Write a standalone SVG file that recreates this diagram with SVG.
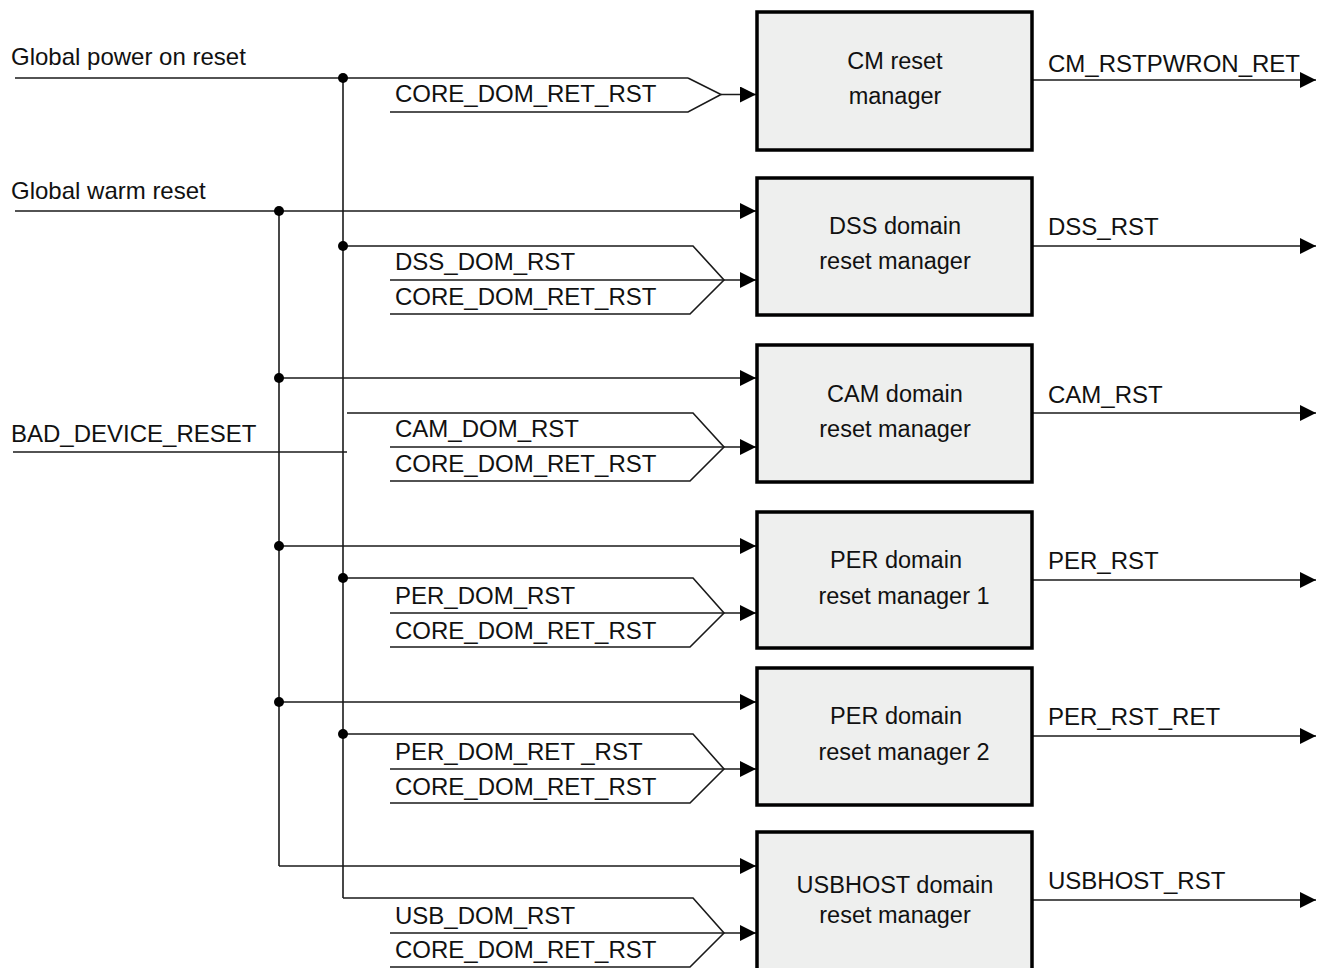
<svg xmlns="http://www.w3.org/2000/svg" width="1318" height="968" viewBox="0 0 1318 968">
<style>
.w{fill:none;stroke:#1a1a1a;stroke-width:1.6}
.box{fill:#eeefee;stroke:#000;stroke-width:3.5}
.lbl{font-family:"Liberation Sans",Arial,sans-serif;font-size:24px;fill:#111}
.bt{font-family:"Liberation Sans",Arial,sans-serif;font-size:23.5px;fill:#111;text-anchor:middle}
.dot{fill:#000}
</style>
<defs>
<marker id="ah" markerUnits="userSpaceOnUse" markerWidth="16" markerHeight="16" refX="16" refY="8" orient="auto" viewBox="0 0 16 16">
<path d="M0,0 L16,8 L0,16 z" fill="#000"/>
</marker>
</defs>
<rect width="1318" height="968" fill="#fff"/>

<g id="connectors">
<line class="w" x1="15" y1="78" x2="688" y2="78"/>
<line class="w" x1="15" y1="211" x2="756" y2="211" marker-end="url(#ah)"/>
<line class="w" x1="13" y1="452" x2="347" y2="452"/>
<line class="w" x1="343" y1="78" x2="343" y2="898"/>
<line class="w" x1="279" y1="211" x2="279" y2="866"/>
<polyline class="w" points="688,78 721,94.5 688,112 390,112"/>
<line class="w" x1="721" y1="94.5" x2="756" y2="94.5" marker-end="url(#ah)"/>
<polyline class="w" points="343,246 693,246 724,280 690,314 390,314"/>
<line class="w" x1="390" y1="280" x2="756" y2="280" marker-end="url(#ah)"/>
<line class="w" x1="279" y1="378" x2="756" y2="378" marker-end="url(#ah)"/>
<polyline class="w" points="347,413 693,413 724,447 690,481 390,481"/>
<line class="w" x1="390" y1="447" x2="756" y2="447" marker-end="url(#ah)"/>
<line class="w" x1="279" y1="546" x2="756" y2="546" marker-end="url(#ah)"/>
<polyline class="w" points="343,578 693,578 724,613 690,647 390,647"/>
<line class="w" x1="390" y1="613" x2="756" y2="613" marker-end="url(#ah)"/>
<line class="w" x1="279" y1="702" x2="756" y2="702" marker-end="url(#ah)"/>
<polyline class="w" points="343,734 693,734 724,769 690,803 390,803"/>
<line class="w" x1="390" y1="769" x2="756" y2="769" marker-end="url(#ah)"/>
<line class="w" x1="279" y1="866" x2="756" y2="866" marker-end="url(#ah)"/>
<polyline class="w" points="343,898 693,898 724,933 690,967 390,967"/>
<line class="w" x1="390" y1="933" x2="756" y2="933" marker-end="url(#ah)"/>
<line class="w" x1="1032" y1="80" x2="1316" y2="80" marker-end="url(#ah)"/>
<line class="w" x1="1032" y1="246" x2="1316" y2="246" marker-end="url(#ah)"/>
<line class="w" x1="1032" y1="413" x2="1316" y2="413" marker-end="url(#ah)"/>
<line class="w" x1="1032" y1="580" x2="1316" y2="580" marker-end="url(#ah)"/>
<line class="w" x1="1032" y1="736" x2="1316" y2="736" marker-end="url(#ah)"/>
<line class="w" x1="1032" y1="900" x2="1316" y2="900" marker-end="url(#ah)"/>
<circle class="dot" cx="343" cy="78" r="5"/>
<circle class="dot" cx="279" cy="211" r="5"/>
<circle class="dot" cx="343" cy="246" r="5"/>
<circle class="dot" cx="279" cy="378" r="5"/>
<circle class="dot" cx="279" cy="546" r="5"/>
<circle class="dot" cx="343" cy="578" r="5"/>
<circle class="dot" cx="279" cy="702" r="5"/>
<circle class="dot" cx="343" cy="734" r="5"/>
</g>

<g id="labels">
<text class="lbl" x="11" y="65">Global power on reset</text>
<text class="lbl" x="11" y="199">Global warm reset</text>
<text class="lbl" x="11" y="442">BAD_DEVICE_RESET</text>
<text class="lbl" x="395" y="102">CORE_DOM_RET_RST</text>
<text class="lbl" x="395" y="270">DSS_DOM_RST</text>
<text class="lbl" x="395" y="305">CORE_DOM_RET_RST</text>
<text class="lbl" x="395" y="437">CAM_DOM_RST</text>
<text class="lbl" x="395" y="472">CORE_DOM_RET_RST</text>
<text class="lbl" x="395" y="604">PER_DOM_RST</text>
<text class="lbl" x="395" y="639">CORE_DOM_RET_RST</text>
<text class="lbl" x="395" y="760">PER_DOM_RET _RST</text>
<text class="lbl" x="395" y="795">CORE_DOM_RET_RST</text>
<text class="lbl" x="395" y="924">USB_DOM_RST</text>
<text class="lbl" x="395" y="958">CORE_DOM_RET_RST</text>
<text class="lbl" x="1048" y="72">CM_RSTPWRON_RET</text>
<text class="lbl" x="1048" y="235">DSS_RST</text>
<text class="lbl" x="1048" y="403">CAM_RST</text>
<text class="lbl" x="1048" y="569">PER_RST</text>
<text class="lbl" x="1048" y="725">PER_RST_RET</text>
<text class="lbl" x="1048" y="889">USBHOST_RST</text>
</g>

<g id="cm">
<rect class="box" x="757" y="12" width="275" height="138"/>
<text class="bt" x="895" y="69">CM reset</text>
<text class="bt" x="895" y="104">manager</text>
</g>
<g id="dss">
<rect class="box" x="757" y="178" width="275" height="137"/>
<text class="bt" x="895" y="234">DSS domain</text>
<text class="bt" x="895" y="269">reset manager</text>
</g>
<g id="cam">
<rect class="box" x="757" y="345" width="275" height="137"/>
<text class="bt" x="895" y="402">CAM domain</text>
<text class="bt" x="895" y="437">reset manager</text>
</g>
<g id="per1">
<rect class="box" x="757" y="512" width="275" height="136"/>
<text class="bt" x="896" y="568">PER domain</text>
<text class="bt" x="904" y="604">reset manager 1</text>
</g>
<g id="per2">
<rect class="box" x="757" y="668" width="275" height="137"/>
<text class="bt" x="896" y="724">PER domain</text>
<text class="bt" x="904" y="760">reset manager 2</text>
</g>
<g id="usb">
<rect class="box" x="757" y="832" width="275" height="140"/>
<text class="bt" x="895" y="893">USBHOST domain</text>
<text class="bt" x="895" y="923">reset manager</text>
</g>
</svg>
